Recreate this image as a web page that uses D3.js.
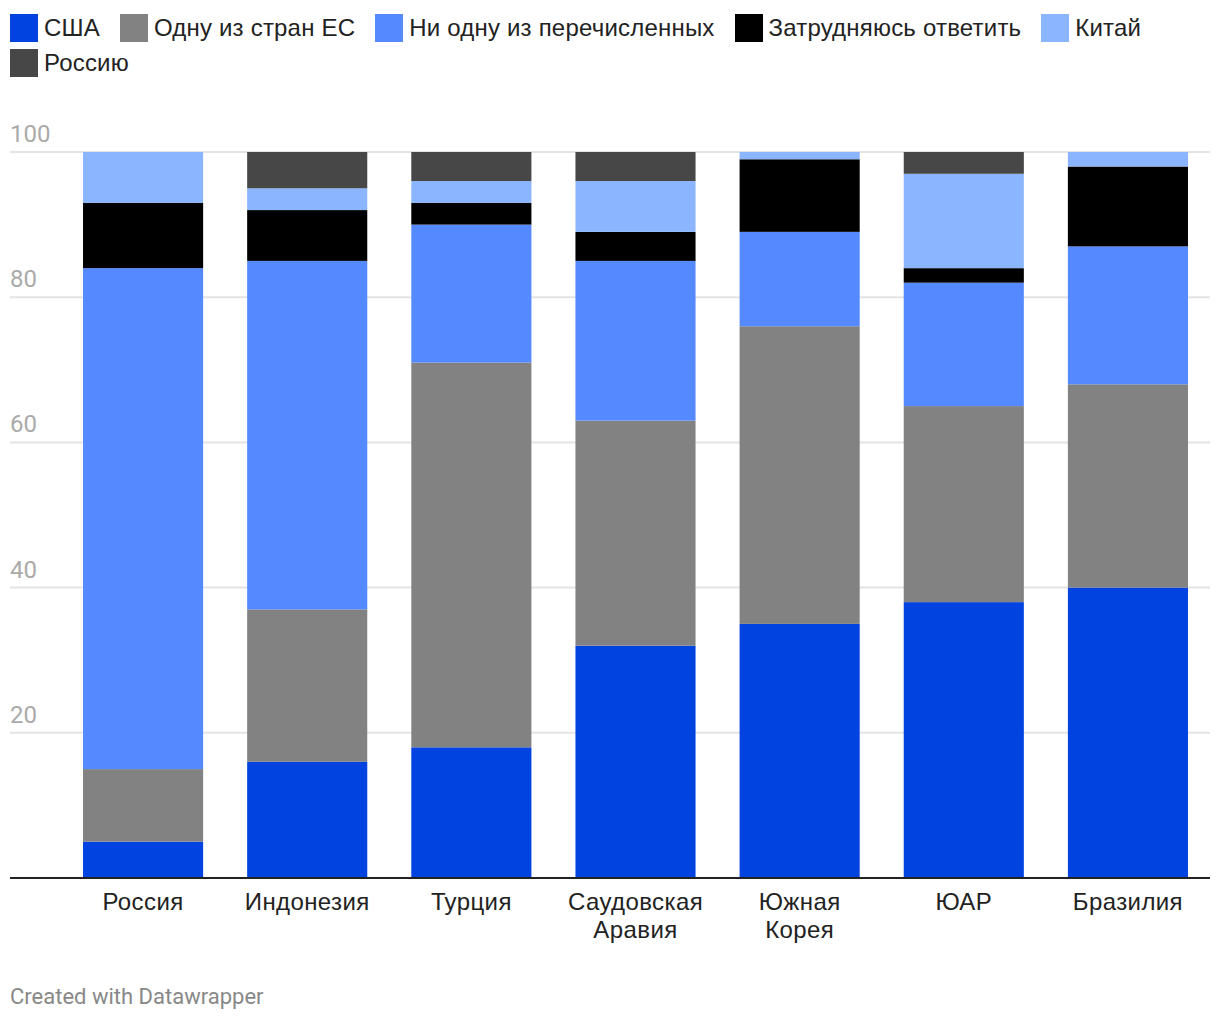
<!DOCTYPE html>
<html><head><meta charset="utf-8">
<script src="https://cdn.jsdelivr.net/npm/d3@7"></script>
<style>
body{margin:0;background:#fff;font-family:"Liberation Sans",Arial,sans-serif;}
#legend{position:absolute;left:10px;top:13px;width:1200px;display:flex;flex-wrap:wrap;row-gap:6px;}
.li{display:flex;align-items:center;margin-right:20px;font-size:24px;letter-spacing:0.2px;color:#222;height:29px;}
.sw{width:28px;height:28px;margin-right:6px;}
svg{position:absolute;left:0;top:0;}
</style></head><body>
<div id="legend"></div>
<svg id="c" width="1220" height="1020"></svg>
<script>
const categories = ["Россия","Индонезия","Турция","Саудовская Аравия","Южная Корея","ЮАР","Бразилия"];
const seriesNames = ["США","Одну из стран ЕС","Ни одну из перечисленных","Затрудняюсь ответить","Китай","Россию"];
const colors = ["#0043e0","#828282","#5589ff","#000000","#8bb5ff","#474747"];
const usa      = [5,16,18,32,35,38,40];
const eu       = [10,21,53,31,41,27,28];
const none     = [69,48,19,22,13,17,19];
const hard     = [9,7,3,4,10,2,11];
const china    = [7,3,3,7,1,13,2];
const russia   = [0,5,4,4,0,3,0];
const yTicks = [20,40,60,80,100];

const seriesVals = [usa,eu,none,hard,china,russia];
const data = categories.map((c,i)=>{const o={cat:c};seriesNames.forEach((s,j)=>o[s]=seriesVals[j][i]);return o;});

const leg = d3.select("#legend");
seriesNames.forEach((s,i)=>{
  const it = leg.append("div").attr("class","li");
  it.append("div").attr("class","sw").style("background",colors[i]);
  it.append("span").text(s);
});

const svg = d3.select("#c");
const x2 = d3.scaleBand().domain(categories).range([83-22, 1188+22]).paddingInner(44/164).paddingOuter(22/164);
const y = d3.scaleLinear().domain([0,100]).range([878,152]);

const g = svg.append("g");
g.selectAll("line.grid").data(yTicks).join("line")
  .attr("x1",10).attr("x2",1210).attr("y1",d=>y(d)).attr("y2",d=>y(d))
  .attr("stroke","#e4e4e4").attr("stroke-width",2);
g.selectAll("text.yt").data(yTicks).join("text")
  .attr("x",10).attr("y",d=>y(d)-10)
  .attr("font-family","Roboto, sans-serif").attr("font-size",24).attr("fill","#aaaaaa")
  .text(d=>d);

const stack = d3.stack().keys(seriesNames)(data);
g.selectAll("g.s").data(stack).join("g").attr("fill",(d,i)=>colors[i])
  .selectAll("rect").data(d=>d).join("rect")
  .attr("x",d=>x2(d.data.cat)).attr("width",x2.bandwidth())
  .attr("y",d=>y(d[1])).attr("height",d=>y(d[0])-y(d[1]));

g.append("line").attr("x1",10).attr("x2",1210).attr("y1",878).attr("y2",878)
  .attr("stroke","#222").attr("stroke-width",2);

categories.forEach(c=>{
  const words = c.split(" ");
  const t = g.append("text").attr("text-anchor","middle")
    .attr("font-size",24).attr("letter-spacing","0.4px").attr("fill","#222")
    .attr("x",x2(c)+x2.bandwidth()/2).attr("y",910);
  words.forEach((w,i)=>t.append("tspan").attr("x",x2(c)+x2.bandwidth()/2).attr("dy",i?28:0).text(w));
});

svg.append("text").attr("x",10).attr("y",1004).attr("font-family","Roboto, sans-serif")
  .attr("font-size",22).attr("fill","#888").text("Created with Datawrapper");
</script>
</body></html>
